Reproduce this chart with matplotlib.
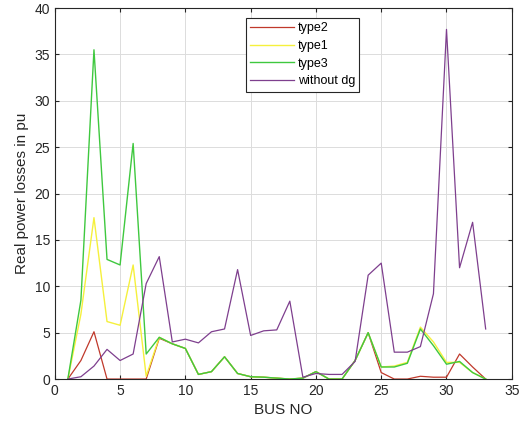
import matplotlib
matplotlib.use("Agg")
import matplotlib.pyplot as plt

plt.rcParams['font.family'] = ['Liberation Sans', 'DejaVu Sans']

# --- data ---
bus = list(range(1, 34))

type2 = [0, 2.0, 5.1, 0, 0, 0, 0, 4.4, 3.8, 3.3, 0.5, 0.8, 2.4, 0.6, 0.25, 0.2, 0.1, 0, 0.1,
         0.8, 0, 0, 2.0, 5.0, 0.7, 0, 0, 0.3, 0.2, 0.2, 2.7, 1.3, 0]
type1 = [0, 7.0, 17.4, 6.2, 5.8, 12.3, 0.3, 4.5, 3.8, 3.3, 0.5, 0.8, 2.4, 0.6, 0.25, 0.2, 0.1, 0, 0.1,
         0.8, 0, 0, 2.0, 5.0, 1.3, 1.4, 1.8, 5.6, 4.0, 1.8, 1.8, 0.7, 0]
type3 = [0, 8.5, 35.5, 12.9, 12.3, 25.4, 2.7, 4.5, 3.8, 3.3, 0.5, 0.8, 2.4, 0.6, 0.25, 0.2, 0.1, 0, 0.1,
         0.8, 0, 0, 2.0, 5.0, 1.3, 1.3, 1.7, 5.4, 3.6, 1.6, 1.9, 0.7, 0]
without_dg = [0, 0.25, 1.4, 3.2, 2.0, 2.7, 10.3, 13.2, 4.0, 4.3, 3.9, 5.1, 5.4, 11.8, 4.7, 5.2, 5.3,
              8.4, 0.2, 0.6, 0.5, 0.5, 1.9, 11.2, 12.5, 2.9, 2.9, 3.5, 9.2, 37.7, 12.0, 16.9, 5.4]

fig = plt.figure(figsize=(5.32, 4.24), dpi=100)
ax = fig.add_axes([0.103, 0.106, 0.859, 0.875])

ax.plot(bus, type2, color="#c0392b", lw=0.9, label="type2")
ax.plot(bus, type1, color="#f5f03c", lw=1.0, label="type1")
ax.plot(bus, type3, color="#3fc83f", lw=1.0, label="type3")
ax.plot(bus, without_dg, color="#7e3f8e", lw=0.9, label="without dg")

ax.set_xlim(0, 35)
ax.set_ylim(0, 40)
ax.set_xticks(range(0, 36, 5))
ax.set_yticks(range(0, 41, 5))
ax.grid(True, color="#dcdcdc", lw=0.7)
ax.set_axisbelow(True)
ax.tick_params(direction="in", colors="#262626", labelsize=10, length=3, top=True, right=True)
for s in ax.spines.values():
    s.set_color("#262626")
    s.set_linewidth(0.8)

ax.set_xlabel("BUS NO", fontsize=11, color="#262626")
ax.set_ylabel("Real power losses in pu", fontsize=11, color="#262626")

leg = ax.legend(loc="upper left", bbox_to_anchor=(0.418, 0.973), borderaxespad=0,
                fontsize=9, fancybox=False, framealpha=1, edgecolor="#262626",
                handlelength=3.5, borderpad=0.35, labelspacing=0.45, handletextpad=0.3)
leg.get_frame().set_linewidth(0.8)

fig.savefig("out.png", dpi=100)
